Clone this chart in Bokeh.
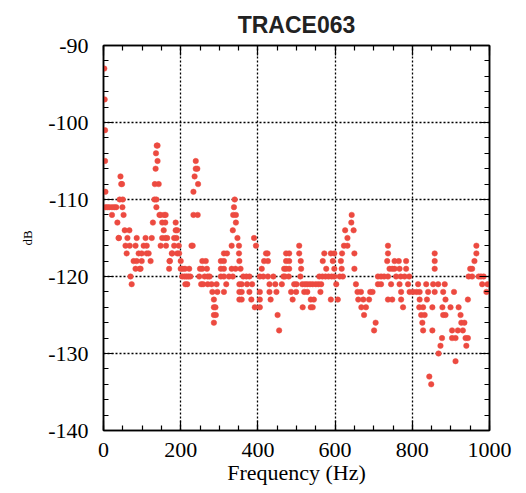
from bokeh.plotting import figure
from bokeh.models import LinearAxis, SingleIntervalTicker, Range1d, ColumnDataSource, Grid, CustomJSTickFormatter
from bokeh.embed import file_html
from bokeh.resources import INLINE

title_text = "TRACE063"
x_label = "Frequency (Hz)"
y_label = "dB"
x_ticks = [0, 200, 400, 600, 800, 1000]
x_tick_labels = ["0", "200", "400", "600", "800", "1000"]
y_ticks = [-140, -130, -120, -110, -100, -90]
y_tick_labels = ["-140", "-130", "-120", "-110", "-100", "-90"]

freq_hz = [
    2, 3, 4, 4, 5, 5, 10, 15, 22, 28, 33, 22, 36, 40, 44, 46, 48, 42, 50, 49, 52, 55, 67, 39,
    62, 57, 68, 60, 78, 86, 83, 94, 70, 73, 86, 91, 99, 83, 104, 112, 112, 117, 99, 122, 109, 125, 96,
    128, 132, 133, 135, 136, 138, 140, 140, 137, 137, 143, 145, 148, 157, 152, 160, 156, 152, 160, 148, 162, 165, 161,
    171, 177, 183, 187, 187, 191, 189, 183, 195, 191, 196, 172, 170, 200, 200, 178,
    204, 210, 215, 220, 225, 211, 222, 205, 217, 212, 228, 231,
    239, 239, 243, 236, 245, 233, 233, 244,
    248, 253, 258, 256, 265, 256, 268, 262, 270, 270, 250, 275,
    280, 282, 286, 286, 290, 286, 291, 286, 293, 295,
    304, 312, 312, 320, 304, 312, 332, 304, 312, 325, 312, 318,
    340, 338, 336, 343, 343, 335, 347, 332, 351, 351, 352, 355, 335, 342, 352, 358, 352, 358, 352, 358,
    362, 370, 378, 385, 390, 395, 372, 378, 383, 392, 405, 405, 405, 405,
    421, 425, 416, 426, 426, 430, 430, 433, 451, 455, 410, 414, 440, 445, 448, 462, 466, 468,
    473, 481, 473, 481, 473, 481, 470, 480, 494, 507, 507, 511, 512, 510, 486, 499, 490, 500,
    515, 522, 528, 535, 542, 550, 557, 564, 520, 528, 562, 537, 545, 516, 537, 542,
    572, 589, 598, 568, 594, 577, 598, 559, 567, 575, 583, 591, 598, 603, 589, 607,
    643, 642, 626, 648, 632, 623, 632, 618, 650, 615, 617, 650, 612, 620, 654, 658, 667, 660, 673, 668, 680, 675, 705, 701,
    691, 697, 688, 711, 719, 711, 719, 737, 737, 735, 741, 754, 737, 727, 745, 737,
    754, 765, 784, 748, 767, 784, 758, 770, 780, 792, 767, 789, 771, 793, 802, 748, 771, 776,
    815, 836, 854, 867, 884, 811, 819, 841, 858, 880, 819, 838, 886, 818, 828, 852, 878, 899,
    823, 832, 880, 886, 826, 828, 852, 858, 858, 858, 877, 844, 849, 868, 873, 912,
    903, 918, 931, 927, 903, 912, 938, 944, 940, 920, 925, 935, 908,
    966, 966, 961, 950, 955, 946, 955, 972, 985, 981, 992, 944, 978, 995,
]

level_db = [
    -93, -97, -101, -105, -109, -111, -111, -111, -111, -111, -111, -112, -113, -115, -107, -108, -108, -110, -110, -111, -112, -114, -114, -115,
    -115, -116, -116, -117, -118, -118, -119, -119, -120, -121, -115, -117, -117, -116, -116, -116, -117, -117, -118, -118, -115, -115, -119,
    -113, -110, -108, -106, -104, -103, -103, -105, -110, -111, -108, -112, -112, -112, -113, -113, -114, -115, -115, -116, -116, -115, -112,
    -118, -117, -115, -113, -114, -114, -115, -116, -116, -117, -117, -118, -119, -118, -119, -117,
    -120, -120, -120, -120, -120, -119, -119, -119, -121, -121, -116, -116,
    -105, -106, -106, -107, -108, -109, -112, -112,
    -120, -121, -121, -118, -118, -119, -119, -120, -120, -121, -119, -120,
    -121, -122, -123, -124, -124, -125, -125, -126, -121, -122,
    -118, -118, -117, -117, -119, -119, -119, -120, -120, -120, -122, -121,
    -110, -111, -112, -112, -113, -114, -115, -116, -116, -117, -118, -119, -120, -119, -121, -121, -122, -122, -123, -123,
    -120, -120, -120, -121, -115, -116, -121, -122, -123, -124, -120, -122, -123, -124,
    -117, -117, -118, -118, -120, -121, -122, -123, -125, -127, -119, -120, -120, -121, -122, -121, -120, -119,
    -117, -117, -118, -118, -119, -119, -120, -120, -121, -116, -117, -118, -119, -120, -122, -122, -123, -121,
    -121, -121, -121, -121, -121, -121, -121, -121, -122, -122, -122, -123, -123, -124, -124, -124,
    -117, -117, -117, -118, -118, -119, -119, -120, -120, -120, -120, -120, -120, -121, -123, -123,
    -112, -113, -114, -114, -115, -116, -116, -117, -117, -118, -119, -119, -120, -120, -121, -122, -122, -123, -123, -124, -124, -125, -126, -127,
    -122, -122, -123, -120, -120, -121, -121, -116, -117, -118, -119, -119, -120, -120, -121, -123,
    -118, -118, -118, -119, -119, -119, -120, -120, -120, -120, -121, -121, -122, -122, -122, -123, -123, -124,
    -121, -121, -121, -121, -121, -122, -122, -122, -122, -122, -123, -123, -123, -124, -124, -124, -124, -124,
    -125, -125, -125, -125, -126, -127, -127, -117, -118, -119, -128, -133, -134, -130, -129, -131,
    -127, -127, -127, -126, -128, -128, -128, -128, -129, -124, -125, -126, -122,
    -116, -117, -118, -119, -119, -120, -120, -120, -120, -121, -122, -123, -120, -121,
]

src = ColumnDataSource(data=dict(f=freq_hz, db=level_db))

p = figure(
    width=518, height=490,
    x_range=Range1d(0, 1000), y_range=Range1d(-140, -90),
    output_backend="svg", toolbar_location=None,
    min_border_left=103, min_border_right=29, min_border_top=45, min_border_bottom=60,
    x_axis_type=None, y_axis_type=None,
)
p.background_fill_color = "white"
p.border_fill_color = "white"
p.outline_line_color = "black"
p.outline_line_width = 1.5

p.title.text = title_text
p.title.align = "center"
p.title.text_font = "Liberation Sans"
p.title.text_font_style = "bold"
p.title.text_font_size = "23px"
p.title.text_color = "#222222"
p.title.standoff = 16


def label_formatter(values, labels):
    return CustomJSTickFormatter(
        args=dict(tvals=values, tlabels=labels),
        code="const i = tvals.indexOf(tick); return i >= 0 ? tlabels[i] : '';",
    )


def make_axis(interval, minor, formatter):
    ax = LinearAxis(ticker=SingleIntervalTicker(interval=interval, num_minor_ticks=minor),
                    formatter=formatter,
                    major_label_text_font="Liberation Serif",
                    major_label_text_font_size="22px",
                    major_label_text_color="black")
    ax.axis_line_color = "black"
    ax.axis_line_width = 1.5
    ax.major_tick_in = 10
    ax.major_tick_out = 0
    ax.minor_tick_in = 5
    ax.minor_tick_out = 0
    ax.major_tick_line_color = "black"
    ax.minor_tick_line_color = "black"
    ax.major_tick_line_width = 1.2
    ax.minor_tick_line_width = 1.2
    return ax


xb = make_axis(200, 4, label_formatter(x_ticks, x_tick_labels))
xb.axis_label = x_label
xb.axis_label_text_font = "Liberation Serif"
xb.axis_label_text_font_size = "22px"
xb.axis_label_text_font_style = "normal"
xb.axis_label_text_color = "black"
xb.axis_label_standoff = 0
xb.major_label_standoff = 12
p.add_layout(xb, "below")

yl = make_axis(10, 5, label_formatter(y_ticks, y_tick_labels))
yl.axis_label = y_label
yl.axis_label_text_font = "Liberation Serif"
yl.axis_label_text_font_size = "13px"
yl.axis_label_text_font_style = "normal"
yl.axis_label_text_color = "black"
yl.axis_label_standoff = 10
yl.major_label_standoff = 15
p.add_layout(yl, "left")

xt = make_axis(200, 4, CustomJSTickFormatter(code="return '';"))
xt.major_label_standoff = 0
p.add_layout(xt, "above")
yr = make_axis(10, 5, CustomJSTickFormatter(code="return '';"))
yr.major_label_standoff = 0
p.add_layout(yr, "right")

gx = Grid(dimension=0, ticker=xb.ticker, grid_line_color="black", grid_line_dash="2 2", grid_line_width=1.3)
gy = Grid(dimension=1, ticker=yl.ticker, grid_line_color="black", grid_line_dash="2 2", grid_line_width=1.3)
p.add_layout(gx)
p.add_layout(gy)

p.scatter("f", "db", source=src, size=5.5, marker="circle",
          fill_color="#ec4a40", line_color="#ec4a40", line_width=0.5)

open("out.html", "w").write(file_html(p, INLINE))
